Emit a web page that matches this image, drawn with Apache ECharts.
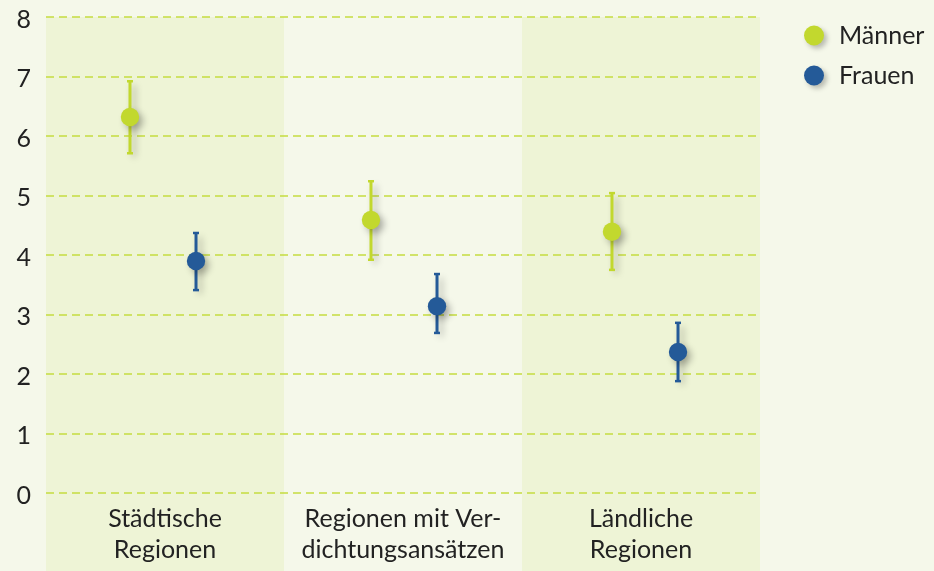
<!DOCTYPE html>
<html><head><meta charset="utf-8">
<script src="https://cdn.jsdelivr.net/npm/echarts@6/dist/echarts.min.js"></script>
<style>html,body{margin:0;padding:0;background:#f5f8ea;}#c{width:934px;height:571px;}</style>
</head><body><div id="c"></div>
<script>
const categories = ['Städtische\nRegionen', 'Regionen mit Ver-\ndichtungsansätzen', 'Ländliche\nRegionen'];
const maennerMid = [6.32, 4.59, 4.39];
const maennerLow = [5.71, 3.92, 3.75];
const maennerHigh = [6.92, 5.24, 5.04];
const frauenMid = [3.90, 3.14, 2.37];
const frauenLow = [3.41, 2.69, 1.88];
const frauenHigh = [4.37, 3.68, 2.86];
const yTicks = [0, 1, 2, 3, 4, 5, 6, 7, 8];

const FONT = 'Lato';
const GREEN = '#c2d82e';
const BLUE = '#245a98';

function errData(mid, low, high) {
  return mid.map((m, i) => [i, m, low[i], high[i]]);
}
function makeRender(color, frac) {
  return function (params, api) {
    const i = api.value(0);
    const bw = api.size([1, 0])[0];
    const c = api.coord([i, api.value(1)]);
    const lo = api.coord([i, api.value(2)]);
    const hi = api.coord([i, api.value(3)]);
    const x = c[0] + bw * frac;
    const shadow = {shadowBlur: 7, shadowOffsetX: 4, shadowOffsetY: 4, shadowColor: 'rgba(0,0,0,0.28)'};
    return {
      type: 'group',
      children: [
        {type: 'line', shape: {x1: x, y1: hi[1], x2: x, y2: lo[1]}, style: Object.assign({stroke: color, lineWidth: 3}, shadow)},
        {type: 'line', shape: {x1: x - 3, y1: hi[1], x2: x + 3, y2: hi[1]}, style: {stroke: color, lineWidth: 2.5}},
        {type: 'line', shape: {x1: x - 3, y1: lo[1], x2: x + 3, y2: lo[1]}, style: {stroke: color, lineWidth: 2.5}},
        {type: 'circle', shape: {cx: x, cy: c[1], r: 9.2}, style: Object.assign({fill: color}, shadow)}
      ]
    };
  };
}

const chart = echarts.init(document.getElementById('c'), null, {renderer: 'canvas'});
chart.setOption({
  backgroundColor: '#f5f8ea',
  animation: false,
  grid: [
    {left: 46, right: 174, top: 17, bottom: 78},
    {left: 42.5, right: 168.5, top: 17, bottom: 78}
  ],
  legend: {
    left: 799, top: 18, orient: 'vertical', itemGap: 15,
    itemWidth: 20, itemHeight: 20, icon: 'circle',
    textStyle: {fontFamily: FONT, fontSize: 25, color: '#222', lineHeight: 20, padding: [0, 0, 0, 10]},
    data: [
      {name: 'Männer', itemStyle: {color: GREEN, shadowBlur: 5, shadowOffsetX: 3, shadowOffsetY: 3, shadowColor: 'rgba(0,0,0,0.25)'}},
      {name: 'Frauen', itemStyle: {color: BLUE, shadowBlur: 5, shadowOffsetX: 3, shadowOffsetY: 3, shadowColor: 'rgba(0,0,0,0.25)'}}
    ]
  },
  xAxis: [
    {
      type: 'category', data: categories, boundaryGap: true, gridIndex: 0,
      axisLine: {show: false}, axisTick: {show: false},
      axisLabel: {fontFamily: FONT, fontSize: 25, color: '#222', margin: 10, lineHeight: 31, interval: 0}
    },
    {type: 'category', data: categories, boundaryGap: true, gridIndex: 1, show: false}
  ],
  yAxis: [
    {
      type: 'value', min: 0, max: 8, interval: 1, gridIndex: 0,
      axisLine: {show: false}, axisTick: {show: false},
      axisLabel: {fontFamily: FONT, fontSize: 25, lineHeight: 25, color: '#222', margin: 15, verticalAlign: 'top', padding: [-10, 0, 0, 0],
        formatter: v => String(yTicks[yTicks.indexOf(v)])},
      splitLine: {lineStyle: {color: '#c5dc40', type: [8, 5], width: 1.5}}
    },
    {type: 'value', min: 0, max: 8, interval: 1, gridIndex: 1, show: false}
  ],
  series: [
    {
      type: 'custom', name: 'bands', z: -5, silent: true, clip: false,
      xAxisIndex: 0, yAxisIndex: 0,
      data: categories.map((c, i) => [i]),
      renderItem: function (params, api) {
        const i = api.value(0);
        if (i % 2 === 1) return null;
        const bw = api.size([1, 0])[0];
        const c = api.coord([i, 8]);
        return {type: 'rect', shape: {x: c[0] - bw / 2, y: c[1], width: bw, height: api.getHeight() - c[1]},
          style: {fill: '#eef4d6'}};
      }
    },
    {type: 'custom', name: 'Männer', xAxisIndex: 1, yAxisIndex: 1, itemStyle: {color: GREEN}, data: errData(maennerMid, maennerLow, maennerHigh), renderItem: makeRender(GREEN, -0.137)},
    {type: 'custom', name: 'Frauen', xAxisIndex: 1, yAxisIndex: 1, itemStyle: {color: BLUE}, data: errData(frauenMid, frauenLow, frauenHigh), renderItem: makeRender(BLUE, 0.137)}
  ]
});
</script></body></html>
